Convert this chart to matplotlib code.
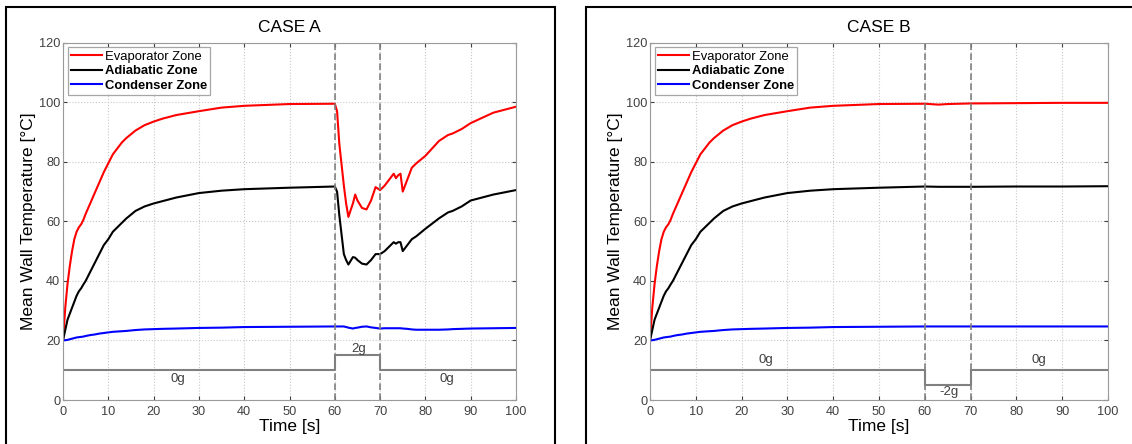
"""Mean wall temperature of the three heat-pipe zones, Case A vs Case B."""

import matplotlib

matplotlib.use("Agg")
import matplotlib.pyplot as plt
from matplotlib.patches import Rectangle

plt.rcParams["font.family"] = ["Liberation Sans", "DejaVu Sans"]

# ── Data ───────────────────────────────────────────────────────────────────
# shared warm-up part (0 - 60 s)
time_warm = [0, 0.5, 1, 1.5, 2, 2.5, 3, 3.5, 4, 4.5, 5, 6, 7, 8, 9, 10, 11, 12, 13, 14,
             16, 18, 20, 22, 25, 30, 35, 40, 50, 60]
evap_warm = [20, 31, 39, 45, 50, 54, 56.5, 58, 59, 60.5, 62.5, 66, 69.5, 73, 76.5, 79.5, 82.5,
             84.5, 86.5, 88, 90.5, 92.3, 93.5, 94.5, 95.7, 97, 98.2, 98.8, 99.4, 99.5]
adia_warm = [20, 23.5, 27, 29, 31, 33, 35, 36.5, 37.5, 38.8, 40, 43, 46, 49, 52, 54, 56.5,
             58, 59.5, 61, 63.5, 65, 66, 66.8, 68, 69.5, 70.3, 70.8, 71.3, 71.7]
cond_warm = [20, 20.1, 20.2, 20.4, 20.6, 20.8, 21, 21.1, 21.2, 21.3, 21.5, 21.8, 22, 22.3,
             22.5, 22.7, 22.9, 23, 23.1, 23.2, 23.5, 23.7, 23.8, 23.9, 24, 24.2, 24.3, 24.5, 24.6, 24.7]

# Case A, 2g period and recovery (after 60 s)
time_a_tail = [60.5, 61, 62, 62.5, 63, 64, 64.5, 65, 66, 67, 68, 69, 70, 71, 72, 73, 73.5,
               74, 74.5, 75, 76, 77, 78, 80, 83, 85, 86, 88, 90, 95, 100]
evap_a_tail = [97, 86, 72, 66, 61.5, 66, 69, 67, 64.5, 64, 67, 71.5, 70.5, 72, 74, 76, 74.5,
               75.5, 76, 70, 74, 78, 79.5, 82, 87, 89, 89.5, 91, 93, 96.5, 98.5]
adia_a_tail = [70, 62, 49, 47, 45.5, 48, 47.8, 47, 45.8, 45.5, 47, 49, 49, 50, 51.5, 53, 52.5,
               53, 53, 50, 52, 54, 55, 57.5, 61, 63, 63.5, 65, 67, 69, 70.5]
cond_a_tail = [24.7, 24.7, 24.7, 24.5, 24.3, 24, 24.2, 24.3, 24.6, 24.7, 24.4, 24.2, 24, 24.1,
               24.1, 24.1, 24.1, 24.1, 24.1, 24.0, 23.9, 23.7, 23.6, 23.6, 23.6, 23.7, 23.8,
               23.9, 24, 24.1, 24.2]

# Case B, -2g period and recovery (after 60 s)
time_b_tail = [63, 65, 70, 80, 90, 100]
evap_b_tail = [99.2, 99.4, 99.6, 99.7, 99.8, 99.8]
adia_b_tail = [71.6, 71.6, 71.6, 71.7, 71.7, 71.8]
cond_b_tail = [24.7, 24.7, 24.7, 24.7, 24.7, 24.7]

gravity_t = [0, 60, 60, 70, 70, 100]
gravity_a = [10, 10, 15, 15, 10, 10]
gravity_b = [10, 10, 5, 5, 10, 10]

# (x, y, text) for the acceleration labels
labels_a = [(25.3, 7, "0g"), (65.2, 17, "2g"), (84.8, 7, "0g")]
labels_b = [(25.3, 13.3, "0g"), (65.2, 2.7, "-2g"), (84.8, 13.3, "0g")]

zone_names = ["Evaporator Zone", "Adiabatic Zone", "Condenser Zone"]
zone_colors = ["#ff0000", "#000000", "#0000ff"]

events = [60, 70]
GREY = "#808080"


def draw_panel(ax, title, t, series, gravity, glabels):
    for y, name, color in zip(series, zone_names, zone_colors):
        ax.plot(t, y, color=color, linewidth=1.5, label=name)
    ax.plot(gravity_t, gravity, color=GREY, linewidth=1.5)
    for x, y, s in glabels:
        ax.text(x, y, s, ha="center", va="center", fontsize=9.5, color="#404040")
    for x in events:
        ax.axvline(x, color=GREY, linestyle="--", linewidth=1.2, dashes=(4, 2))

    ax.set_xlim(0, 100)
    ax.set_ylim(0, 120)
    ax.set_xticks(range(0, 101, 10))
    ax.set_yticks(range(0, 121, 20))
    ax.grid(True, color="#c8c8c8", linestyle=":", linewidth=0.8)
    ax.tick_params(direction="in", length=3, labelsize=9.2, colors="#404040", pad=2,
                   top=True, right=True)
    ax.tick_params(axis="x", pad=4)
    for sp in ax.spines.values():
        sp.set_color("#9a9a9a")
    ax.set_title(title, fontsize=12.5, pad=8)
    ax.set_xlabel("Time [s]", fontsize=12.5, labelpad=1)
    ax.set_ylabel("Mean Wall Temperature [°C]", fontsize=12.5, labelpad=2)

    leg = ax.legend(loc="upper left", fontsize=9.4, frameon=True, fancybox=False,
                    handlelength=2.4, handletextpad=0.2, borderpad=0.25,
                    labelspacing=0.18, borderaxespad=0.36)
    leg.get_frame().set_edgecolor("#909090")
    leg.get_frame().set_linewidth(0.9)
    for i, txt in enumerate(leg.get_texts()):
        if i > 0:
            txt.set_fontweight("bold")


def main() -> None:
    W, H = 1132, 444
    fig = plt.figure(figsize=(W / 100, H / 100), dpi=100)
    ax_a = fig.add_axes([63 / W, 44 / H, 453 / W, 357.3 / H])
    ax_b = fig.add_axes([650 / W, 44 / H, 458 / W, 357.3 / H])

    t_a = time_warm + time_a_tail
    t_b = time_warm + time_b_tail
    draw_panel(ax_a, "CASE A", t_a,
               [evap_warm + evap_a_tail, adia_warm + adia_a_tail, cond_warm + cond_a_tail],
               gravity_a, labels_a)
    draw_panel(ax_b, "CASE B", t_b,
               [evap_warm + evap_b_tail, adia_warm + adia_b_tail, cond_warm + cond_b_tail],
               gravity_b, labels_b)

    # thick frames round each panel (they run off the bottom / right edge)
    fig.patches.append(Rectangle((6 / W, -0.05), 549 / W, (H - 7) / H + 0.05,
                                 transform=fig.transFigure, fill=False,
                                 edgecolor="black", linewidth=1.5))
    fig.patches.append(Rectangle((586 / W, -0.05), 600 / W, (H - 7) / H + 0.05,
                                 transform=fig.transFigure, fill=False,
                                 edgecolor="black", linewidth=1.5))

    fig.savefig("out.png", dpi=100)
    plt.close(fig)


if __name__ == "__main__":
    main()
